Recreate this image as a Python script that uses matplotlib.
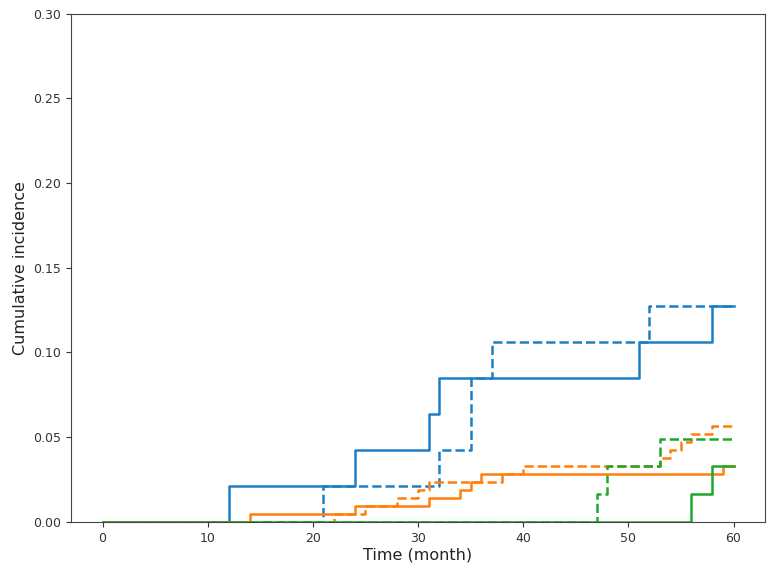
import matplotlib
matplotlib.use('Agg')
import matplotlib.pyplot as plt

# event times (month) and cumulative incidence after each event
blue_solid_t = [0, 12, 24, 31, 32, 51, 58, 60]
blue_solid_y = [0, 0.0213, 0.0426, 0.0638, 0.0851, 0.1064, 0.1277, 0.1277]
blue_dash_t = [0, 21, 32, 35, 37, 52, 60]
blue_dash_y = [0, 0.0213, 0.0426, 0.0851, 0.1064, 0.1277, 0.1277]

orange_solid_t = [0, 14, 24, 31, 34, 35, 36, 59, 60]
orange_solid_y = [0, 0.0047, 0.0094, 0.0142, 0.0189, 0.0236, 0.0283, 0.0330, 0.0330]
orange_dash_t = [0, 22, 25, 28, 30, 31, 38, 40, 53, 54, 55, 56, 58, 60]
orange_dash_y = [0, 0.0047, 0.0094, 0.0142, 0.0189, 0.0236, 0.0283, 0.0330,
                 0.0377, 0.0425, 0.0472, 0.0519, 0.0566, 0.0566]

green_solid_t = [0, 56, 58, 60]
green_solid_y = [0, 0.0164, 0.0328, 0.0328]
green_dash_t = [0, 47, 48, 53, 60]
green_dash_y = [0, 0.0164, 0.0328, 0.0492, 0.0492]

blue = '#1a7fc4'
orange = '#ff7f0e'
green = '#1ca82a'

fig = plt.figure(figsize=(7.72, 5.71), dpi=100)
ax = fig.add_axes([0.092, 0.086, 0.899, 0.89])

ax.step(blue_dash_t, blue_dash_y, where='post', color=blue, ls='--', lw=1.8, zorder=3)
ax.step(orange_dash_t, orange_dash_y, where='post', color=orange, ls='--', lw=1.8, zorder=3)
ax.step(green_dash_t, green_dash_y, where='post', color=green, ls='--', lw=1.8, zorder=3)
ax.step(blue_solid_t, blue_solid_y, where='post', color=blue, lw=1.8, zorder=3)
ax.step(orange_solid_t, orange_solid_y, where='post', color=orange, lw=1.8, zorder=3)
ax.step(green_solid_t, green_solid_y, where='post', color=green, lw=1.8, zorder=3)

ax.set_xlim(-3, 63)
ax.set_ylim(0, 0.30)
ax.set_xticks([0, 10, 20, 30, 40, 50, 60])
ax.set_yticks([0, 0.05, 0.10, 0.15, 0.20, 0.25, 0.30])
ax.set_yticklabels(['0.00', '0.05', '0.10', '0.15', '0.20', '0.25', '0.30'])
ax.tick_params(labelsize=9, colors='#333333')
for s in ax.spines.values():
    s.set_color('#444444')
ax.set_xlabel('Time (month)', fontsize=11.5, labelpad=2, color='#222222')
ax.set_ylabel('Cumulative incidence', fontsize=11.5, color='#222222')

fig.savefig('out.png', dpi=100)
